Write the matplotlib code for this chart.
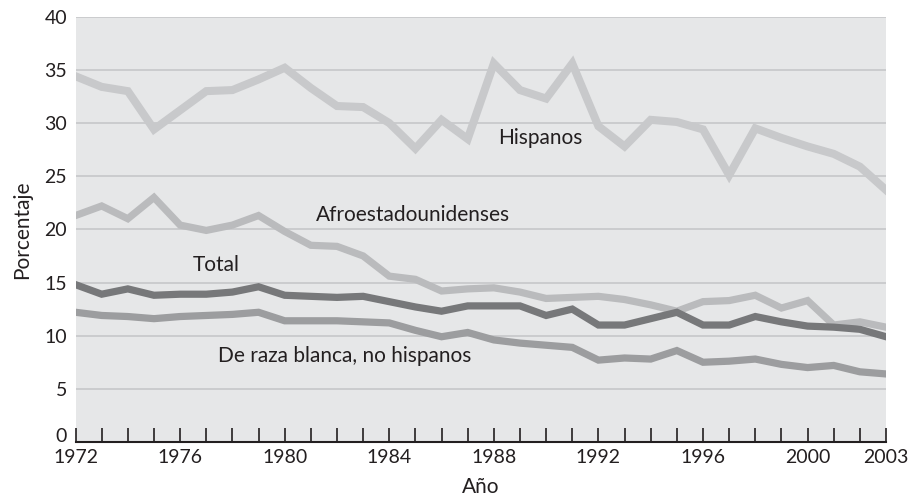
import matplotlib

matplotlib.use('Agg')
import matplotlib.pyplot as plt
from matplotlib.transforms import ScaledTranslation

years = list(range(1972, 2004))

hispanos = [34.4, 33.4, 33.0, 29.4, 31.2, 33.0, 33.1, 34.1, 35.2, 33.3,
            31.6, 31.5, 30.0, 27.6, 30.3, 28.5, 35.6, 33.1, 32.3, 35.6,
            29.7, 27.8, 30.3, 30.1, 29.4, 25.1, 29.5, 28.6, 27.8, 27.1,
            25.9, 23.7]
afro = [21.3, 22.2, 21.0, 23.0, 20.4, 19.9, 20.4, 21.3, 19.8, 18.5,
        18.4, 17.5, 15.6, 15.3, 14.2, 14.4, 14.5, 14.1, 13.5, 13.6,
        13.7, 13.4, 12.9, 12.3, 13.2, 13.3, 13.8, 12.6, 13.3, 11.0,
        11.3, 10.8]
total = [14.8, 13.9, 14.4, 13.8, 13.9, 13.9, 14.1, 14.6, 13.8, 13.7,
         13.6, 13.7, 13.2, 12.7, 12.3, 12.8, 12.8, 12.8, 11.9, 12.5,
         11.0, 11.0, 11.6, 12.2, 11.0, 11.0, 11.8, 11.3, 10.9, 10.8,
         10.6, 9.9]
blanca = [12.2, 11.9, 11.8, 11.6, 11.8, 11.9, 12.0, 12.2, 11.4, 11.4,
          11.4, 11.3, 11.2, 10.5, 9.9, 10.3, 9.6, 9.3, 9.1, 8.9,
          7.7, 7.9, 7.8, 8.6, 7.5, 7.6, 7.8, 7.3, 7.0, 7.2,
          6.6, 6.4]

x_labels = [1972, 1976, 1980, 1984, 1988, 1992, 1996, 2000, 2003]
y_ticks = list(range(0, 45, 5))

plt.rcParams['font.family'] = ['Lato', 'DejaVu Sans']
text_color = '#231f20'

figure = plt.figure(figsize=(9.09, 4.96), dpi=100)
axis = figure.add_axes([0.0831, 0.1089, 0.8916, 0.8574])
axis.set_facecolor('#e6e7e8')

for value in y_ticks[1:]:
    axis.axhline(value, color='#c6c7c9', lw=1.2, zorder=1)

axis.plot(years, hispanos, color='#c8c9cb', lw=5.8, zorder=3, solid_joinstyle='miter')
axis.plot(years, afro, color='#babbbd', lw=5.2, zorder=3, solid_joinstyle='miter')
axis.plot(years, blanca, color='#9c9d9f', lw=5.2, zorder=4, solid_joinstyle='miter')
axis.plot(years, total, color='#77787a', lw=5.2, zorder=5, solid_joinstyle='miter')

label_style = dict(fontsize=15, color=text_color, va='center', ha='left', zorder=6)
axis.text(1988.15, 28.6, 'Hispanos', **label_style)
axis.text(1981.2, 21.35, 'Afroestadounidenses', **label_style)
axis.text(1976.5, 16.6, 'Total', **label_style)
axis.text(1977.45, 8.1, 'De raza blanca, no hispanos', **label_style)

axis.set_xlim(1972, 2003)
axis.set_ylim(0, 40)
axis.set_xticks(years)
axis.set_xticklabels([str(y) if y in x_labels else '' for y in years])
axis.set_yticks(y_ticks)
axis.tick_params(axis='x', direction='in', length=10, width=1.2, color=text_color,
                 labelsize=14, pad=5, labelcolor=text_color)
axis.tick_params(axis='y', length=0, labelsize=14, pad=6, labelcolor=text_color)

# the zero label sits a little above the axis line
zero_label = axis.get_yticklabels()[0]
zero_label.set_transform(zero_label.get_transform()
                         + ScaledTranslation(0, 5 / 72, figure.dpi_scale_trans))

for side in ('top', 'right', 'left'):
    axis.spines[side].set_visible(False)
axis.spines['bottom'].set_color(text_color)
axis.spines['bottom'].set_linewidth(1.5)
axis.spines['bottom'].set_zorder(7)

axis.set_xlabel('Año', fontsize=15, color=text_color, labelpad=8)
axis.set_ylabel('Porcentaje', fontsize=15, color=text_color, labelpad=9)

figure.savefig('out.png', dpi=100)
plt.close(figure)
